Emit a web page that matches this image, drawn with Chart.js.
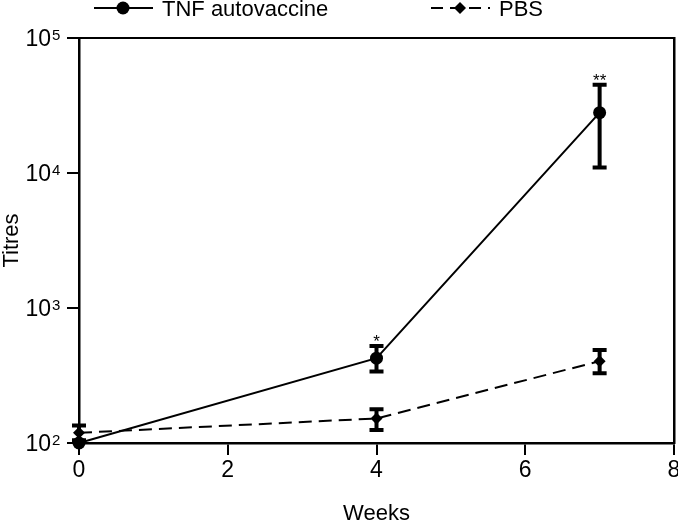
<!DOCTYPE html>
<html lang="en">
<head>
  <meta charset="UTF-8" />
  <title>Titres</title>
  <script src="https://cdn.jsdelivr.net/npm/chart.js"></script>
  <style>
    html, body {
      margin: 0;
      padding: 0;
      background: #fff;
    }
    #wrap {
      width: 678px;
      height: 521px;
    }
  </style>
</head>
<body>
<div id="wrap"><canvas id="titreChart" width="678" height="521"></canvas></div>

<script>
  const weeks = [0, 4, 7];

  const tnfTitre = [100, 425, 28000];
  const tnfLow   = [null, 339, 11000];
  const tnfHigh  = [null, 524, 45000];
  const tnfStars = ['', '*', '**'];

  const pbsTitre = [119, 152, 404];
  const pbsLow   = [105, 125, 328];
  const pbsHigh  = [135, 178, 488];

  const xTicks = [0, 2, 4, 6, 8];
  const yTicks = [100, 1000, 10000, 100000];

  const FONT = '"Liberation Sans", Arial, Helvetica, sans-serif';

  const errors = [
    { low: tnfLow, high: tnfHigh, stars: tnfStars },
    { low: pbsLow, high: pbsHigh, stars: null }
  ];

  // error bars + significance stars, drawn through the chart scales
  const errorBars = {
    id: 'errorBars',
    afterDatasetsDraw(chart) {
      const ctx = chart.ctx;
      const xs = chart.scales.x, ys = chart.scales.y;
      ctx.save();
      ctx.strokeStyle = '#000';
      ctx.fillStyle = '#000';
      ctx.lineWidth = 4;
      ctx.lineCap = 'butt';
      errors.slice().reverse().forEach(e => {
        weeks.forEach((w, i) => {
          if (e.low[i] == null) return;
          const x = xs.getPixelForValue(w);
          const yl = ys.getPixelForValue(e.low[i]);
          const yh = ys.getPixelForValue(e.high[i]);
          ctx.beginPath();
          ctx.moveTo(x, yl); ctx.lineTo(x, yh);
          ctx.moveTo(x - 7, yl); ctx.lineTo(x + 7, yl);
          ctx.moveTo(x - 7, yh); ctx.lineTo(x + 7, yh);
          ctx.stroke();
          if (e.stars && e.stars[i]) {
            ctx.font = '17px ' + FONT;
            ctx.textAlign = 'center';
            ctx.textBaseline = 'alphabetic';
            ctx.fillText(e.stars[i], x, yh + 1);
          }
        });
      });
      ctx.restore();
    }
  };

  // y tick labels as 10 with raised exponent
  const powerLabels = {
    id: 'powerLabels',
    afterDraw(chart) {
      const ctx = chart.ctx;
      const ys = chart.scales.y;
      ctx.save();
      ctx.fillStyle = '#000';
      ys.ticks.forEach(t => {
        const y = ys.getPixelForValue(t.value);
        const exp = Math.round(Math.log10(t.value));
        ctx.font = '23px ' + FONT;
        ctx.textAlign = 'right';
        ctx.textBaseline = 'middle';
        ctx.fillText('10', 51, y + 2);
        ctx.font = '15px ' + FONT;
        ctx.textAlign = 'left';
        ctx.textBaseline = 'top';
        ctx.fillText(String(exp), 52, y - 10);
      });
      ctx.restore();
    }
  };

  // legend across the top
  const topLegend = {
    id: 'topLegend',
    afterDraw(chart) {
      const ctx = chart.ctx;
      const y = 8;
      ctx.save();
      ctx.strokeStyle = '#000';
      ctx.fillStyle = '#000';
      ctx.lineWidth = 2;

      ctx.beginPath();
      ctx.moveTo(94, y); ctx.lineTo(153, y);
      ctx.stroke();
      ctx.beginPath();
      ctx.arc(123, y, 6.5, 0, Math.PI * 2);
      ctx.fill();

      ctx.setLineDash([12, 7]);
      ctx.beginPath();
      ctx.moveTo(431, y); ctx.lineTo(490, y);
      ctx.stroke();
      ctx.setLineDash([]);
      ctx.beginPath();
      ctx.moveTo(460, y - 6); ctx.lineTo(466, y); ctx.lineTo(460, y + 6); ctx.lineTo(454, y);
      ctx.closePath();
      ctx.fill();

      ctx.font = '22px ' + FONT;
      ctx.textAlign = 'left';
      ctx.textBaseline = 'middle';
      ctx.fillText(chart.data.datasets[0].label, 162, y + 2);
      ctx.fillText(chart.data.datasets[1].label, 499, y + 2);
      ctx.restore();
    }
  };

  const ctx = document.getElementById('titreChart').getContext('2d');
  const chart = new Chart(ctx, {
    type: 'line',
    data: {
      datasets: [
        {
          label: 'TNF autovaccine',
          data: weeks.map((w, i) => ({ x: w, y: tnfTitre[i] })),
          borderColor: '#000',
          backgroundColor: '#000',
          borderWidth: 2,
          pointStyle: 'circle',
          pointRadius: 6.5,
          pointBorderWidth: 0,
          tension: 0,
          clip: false
        },
        {
          label: 'PBS',
          data: weeks.map((w, i) => ({ x: w, y: pbsTitre[i] })),
          borderColor: '#000',
          backgroundColor: '#000',
          borderWidth: 2,
          borderDash: [13, 7],
          pointStyle: 'rectRot',
          pointRadius: 6,
          pointBorderWidth: 0,
          tension: 0,
          clip: false
        }
      ]
    },
    options: {
      responsive: false,
      animation: false,
      events: [],
      layout: { autoPadding: false, padding: 0 },
      plugins: {
        legend: { display: false },
        tooltip: { enabled: false }
      },
      scales: {
        x: {
          type: 'linear',
          position: 'bottom',
          min: 0,
          max: 8,
          afterBuildTicks: s => { s.ticks = xTicks.map(v => ({ value: v })); },
          afterFit: s => { s.height = 78; s.paddingLeft = 0; s.paddingRight = 0; },
          border: { display: true, color: '#000', width: 2.5 },
          grid: { display: true, drawOnChartArea: false, drawTicks: true, tickLength: 12, color: '#000', lineWidth: 2 },
          ticks: { color: '#000', font: { family: FONT, size: 23 }, padding: 2, maxRotation: 0 },
          title: { display: true, text: 'Weeks', color: '#000', font: { family: FONT, size: 22, lineHeight: 1 }, padding: { top: 0, bottom: -4 } }
        },
        x2: {
          type: 'linear',
          position: 'top',
          min: 0,
          max: 8,
          afterFit: s => { s.height = 38; s.paddingLeft = 0; s.paddingRight = 0; },
          border: { display: true, color: '#000', width: 2 },
          grid: { display: false },
          ticks: { display: false }
        },
        y: {
          type: 'logarithmic',
          position: 'left',
          min: 100,
          max: 100000,
          afterBuildTicks: s => { s.ticks = yTicks.map(v => ({ value: v })); },
          afterFit: s => { s.width = 79; s.paddingTop = 0; s.paddingBottom = 0; },
          border: { display: true, color: '#000', width: 2.5 },
          grid: { display: true, drawOnChartArea: false, drawTicks: true, tickLength: 12, color: '#000', lineWidth: 2 },
          ticks: { callback: () => '', font: { family: FONT, size: 22 } },
          title: { display: true, text: 'Titres', color: '#000', font: { family: FONT, size: 22, lineHeight: 1 }, padding: { top: 1, bottom: 0 } }
        },
        y2: {
          type: 'linear',
          position: 'right',
          afterFit: s => { s.width = 4; s.paddingTop = 0; s.paddingBottom = 0; },
          border: { display: true, color: '#000', width: 2.5 },
          grid: { display: false },
          ticks: { display: false }
        }
      }
    },
    plugins: [errorBars, powerLabels, topLegend]
  });
</script>
</body>
</html>
